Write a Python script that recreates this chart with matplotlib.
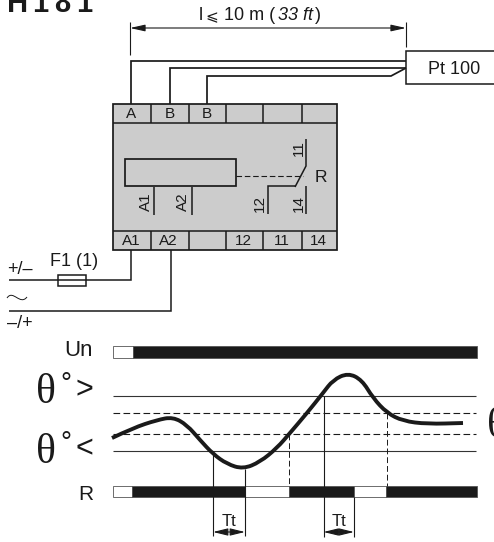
#!/usr/bin/python3

# wiring diagram and timing chart of the H181 temperature relay
# everything is drawn in image pixels, y goes down

import matplotlib
matplotlib.use('Agg')
from matplotlib import pyplot as plt
from matplotlib.patches import Rectangle, PathPatch
from matplotlib.path import Path

plt.rcParams['font.family'] = ['Liberation Sans', 'DejaVu Sans']

WIDTH = 494
HEIGHT = 542
BLACK = '#1a1a1a'
GREY = '#cccccc'

# title letters and their left edges
title_letters = ['H', '1', '8', '1']
title_x = [7, 32, 54, 76]

# top terminal row
top_labels = ['A', 'B', 'B', '', '', '']
bottom_labels = ['A1', 'A2', '', '12', '11', '14']
cell_edges = [113, 151, 188.5, 226, 263, 302, 337]

# sensor wires, x of terminal and y of the horizontal run
wire_x = [131, 170, 207]
wire_y = [60.5, 68, 76]

# timing chart levels
level_solid = [396, 451]
level_dashed = [413, 434]

# supply bar: (start, end, on)
un_segments = [(113, 133, False), (133, 477, True)]
# relay bar
r_segments = [(113, 132, False), (132, 245, True), (245, 289, False),
              (289, 354, True), (354, 386, False), (386, 477, True)]

# temperature curve
curve_x = [112, 133, 157, 173, 187, 200, 213, 227, 243, 260, 277, 290,
           307, 323, 333, 348, 362, 373, 387, 403, 427, 463]
curve_y = [438, 428, 420, 417, 425, 440, 454, 464, 469, 462, 448, 433,
           413, 393, 380, 373, 380, 398, 413, 421, 424, 423]

# drop lines under the curve: x, top, bottom, dashed
drops = [(213, 451, 536, False), (245, 469, 536, False), (289, 434, 486, True),
         (323.5, 396, 537, False), (354, 497, 537, False), (387, 413, 486, True)]

# Tt delays: start, end
delays = [(213, 245), (323.5, 354)]


def line(ax, xs, ys, lw=1.1, color=BLACK, **kwargs):
    ax.plot(xs, ys, color=color, lw=lw, solid_joinstyle='miter', solid_capstyle='butt', **kwargs)


def label(ax, x, y, s, size, ha='center', va='center', **kwargs):
    ax.text(x, y, s, fontsize=size, ha=ha, va=va, color=BLACK, **kwargs)


def bar(ax, segments, top, bottom):
    for start, end, on in segments:
        ax.add_patch(Rectangle((start, top), end - start, bottom - top,
                               facecolor=BLACK if on else 'white', edgecolor='#555555', lw=0.6))


fig = plt.figure(figsize=(WIDTH / 100, HEIGHT / 100), dpi=100)
ax = fig.add_axes([0, 0, 1, 1])
ax.set_xlim(0, WIDTH)
ax.set_ylim(HEIGHT, 0)
ax.axis('off')

for x, letter in zip(title_x, title_letters):
    ax.text(x, 12, letter, fontsize=21, fontweight='bold', ha='left', va='baseline', color=BLACK)

# length dimension
line(ax, [130, 130], [22, 55], lw=0.8)
line(ax, [406, 406], [22, 47], lw=0.8)
ax.annotate('', xy=(130, 28), xytext=(406, 28),
            arrowprops=dict(arrowstyle='<|-|>,head_length=0.9,head_width=0.2', color=BLACK, lw=0.8,
                            shrinkA=0, shrinkB=0))
label(ax, 199, 16, 'l', 13, ha='left')
label(ax, 205, 17, '\u2a7d', 11, ha='left', family='DejaVu Sans')
label(ax, 224, 16, '10 m (', 13, ha='left')
label(ax, 278, 16, '33 ft', 13, ha='left', style='italic')
label(ax, 315, 16, ')', 13, ha='left')

# sensor
ax.add_patch(Rectangle((406, 51), 100, 33, facecolor='white', edgecolor=BLACK, lw=1.1))
label(ax, 454, 70, 'Pt 100', 13)
line(ax, [wire_x[0], wire_x[0], 406], [104, wire_y[0], wire_y[0]], lw=1.25)
line(ax, [wire_x[1], wire_x[1], 406], [104, wire_y[1], wire_y[1]], lw=1.25)
line(ax, [wire_x[2], wire_x[2], 391, 406], [104, wire_y[2], wire_y[2], wire_y[1]], lw=1.25)

# module body
ax.add_patch(Rectangle((113, 104), 224, 146, facecolor=GREY, edgecolor=BLACK, lw=1.25))
line(ax, [113, 337], [123, 123])
line(ax, [113, 337], [231, 231])
for x in cell_edges[1:-1]:
    line(ax, [x, x], [104, 123])
    line(ax, [x, x], [231, 250])
for x, text in zip(wire_x + [245, 282, 320], top_labels):
    label(ax, x, 114, text, 11)
for i, text in enumerate(bottom_labels):
    label(ax, (cell_edges[i] + cell_edges[i + 1]) / 2 - 1, 241, text, 11)

# coil and contact
ax.add_patch(Rectangle((124.5, 159), 111.5, 26.5, facecolor=GREY, edgecolor=BLACK, lw=1.25))
line(ax, [236, 303], [175.5, 175.5], lw=0.8, linestyle=(0, (5, 2.5)))
line(ax, [154, 154], [187, 215])
line(ax, [192, 192], [187, 215])
line(ax, [306, 306, 295], [139, 166, 187])
line(ax, [306, 306], [186, 214])
line(ax, [296, 268, 268], [185.5, 185.5, 214])
label(ax, 146, 202, 'A1', 11, rotation=90)
label(ax, 183, 202, 'A2', 11, rotation=90)
label(ax, 260, 203, '12', 11, rotation=90)
label(ax, 299, 203, '14', 11, rotation=90)
label(ax, 299, 148, '11', 11, rotation=90)
label(ax, 321, 177, 'R', 12.5)

# supply
line(ax, [131, 131, 9], [250, 280, 280])
line(ax, [171, 171, 9], [250, 311, 311])
ax.add_patch(Rectangle((58, 275), 28, 11, facecolor='white', edgecolor=BLACK, lw=1.1))
label(ax, 7, 270, '+/\u2013', 13, ha='left')
label(ax, 50, 261, 'F1 (1)', 13, ha='left')
label(ax, 7, 323, '\u2013/+', 13, ha='left')
tilde = Path([(7, 298), (13, 289), (20, 306), (27, 297)],
             [Path.MOVETO, Path.CURVE4, Path.CURVE4, Path.CURVE4])
ax.add_patch(PathPatch(tilde, facecolor='none', edgecolor=BLACK, lw=0.7))

# timing chart
label(ax, 93, 351, 'Un', 16, ha='right')
label(ax, 93, 494, 'R', 15, ha='right')
bar(ax, un_segments, 345.5, 358)
bar(ax, r_segments, 485.5, 497)

for y in level_solid:
    line(ax, [113, 476], [y, y], lw=0.8, color='#333333')
for y in level_dashed:
    line(ax, [113, 476], [y, y], lw=0.8, linestyle=(0, (6, 3)))
for x, top, bottom, dashed in drops:
    if dashed:
        line(ax, [x, x], [top, bottom], lw=0.7, linestyle=(0, (6, 3)), zorder=4)
    else:
        line(ax, [x, x], [top, bottom], lw=0.8, zorder=4)

# smooth the read points with quadratic pieces through their midpoints
verts = [(curve_x[0], curve_y[0])]
codes = [Path.MOVETO]
for i in range(1, len(curve_x) - 1):
    verts.append((curve_x[i], curve_y[i]))
    codes.append(Path.CURVE3)
    verts.append(((curve_x[i] + curve_x[i + 1]) / 2, (curve_y[i] + curve_y[i + 1]) / 2))
    codes.append(Path.CURVE3)
verts.append((curve_x[-1], curve_y[-1]))
codes.append(Path.LINETO)
ax.add_patch(PathPatch(Path(verts, codes), facecolor='none', edgecolor=BLACK, lw=2.8,
                       capstyle='butt', zorder=5))

for start, end in delays:
    ax.annotate('', xy=(start, 532), xytext=(end, 532),
                arrowprops=dict(arrowstyle='<|-|>,head_length=0.9,head_width=0.22', color=BLACK, lw=0.8,
                                shrinkA=0, shrinkB=0))
    label(ax, (start + end) / 2, 521, 'Tt', 12)

# threshold labels
label(ax, 46, 393, '\u03b8', 30, family='Liberation Serif')
label(ax, 66, 385, '\u00b0', 20)
label(ax, 84, 390, '>', 22)
label(ax, 46, 453, '\u03b8', 30, family='Liberation Serif')
label(ax, 66, 444, '\u00b0', 20)
label(ax, 84, 449, '<', 22)
label(ax, 497, 427, '\u03b8', 30, family='Liberation Serif')

fig.savefig('out.png', dpi=100)
